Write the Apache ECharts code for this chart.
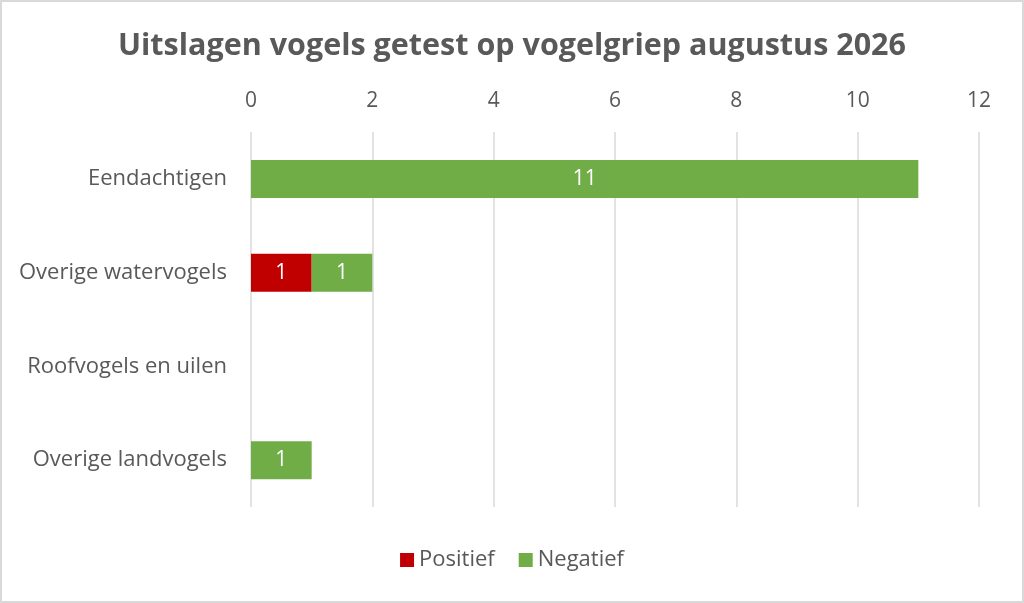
<!DOCTYPE html>
<html>
<head>
<meta charset="utf-8">
<script src="https://cdn.jsdelivr.net/npm/echarts@6/dist/echarts.min.js"></script>
<style>
  html, body { margin: 0; padding: 0; background: #fff; }
  #chart { width: 1024px; height: 603px; box-sizing: border-box; border: 2px solid #d9d9d9; }
</style>
</head>
<body>
<div id="chart"></div>
<script>
const categories = ["Eendachtigen", "Overige watervogels", "Roofvogels en uilen", "Overige landvogels"];
const positief = [0, 1, 0, 0];
const negatief = [11, 1, 0, 1];
const xTicks = { min: 0, max: 12, interval: 2 };

const chart = echarts.init(document.getElementById("chart"));
const txt = "#595959";
const font = "Open Sans";

const labelCfg = {
    show: true,
    color: "#fff",
    fontFamily: font,
    fontSize: 21,
    // lege waarden niet tonen
    formatter: (p) => (p.value ? p.value : "")
};

chart.setOption({
    animation: false,
    title: {
        text: "Uitslagen vogels getest op vogelgriep augustus 2026",
        left: "center",
        top: 24,
        textStyle: { color: txt, fontFamily: font, fontSize: 30.5, fontWeight: "bold" }
    },
    legend: {
        bottom: 25,
        left: "center",
        itemWidth: 14,
        itemHeight: 14,
        itemGap: 24,
        icon: "rect",
        textStyle: { color: txt, fontFamily: font, fontSize: 22 },
        data: ["Positief", "Negatief"]
    },
    grid: { left: 249, right: 43, top: 130, bottom: 94 },
    xAxis: {
        type: "value",
        position: "top",
        min: xTicks.min,
        max: xTicks.max,
        interval: xTicks.interval,
        axisLine: { show: false },
        axisTick: { show: false },
        axisLabel: { color: txt, fontFamily: font, fontSize: 21, margin: 20 },
        splitLine: { lineStyle: { color: "#d9d9d9", width: 1.5 } }
    },
    yAxis: {
        type: "category",
        inverse: true,
        data: categories,
        axisLine: { show: false },
        axisTick: { show: false },
        axisLabel: { color: txt, fontFamily: font, fontSize: 22, margin: 24 }
    },
    series: [
        {
            name: "Positief",
            type: "bar",
            stack: "totaal",
            barWidth: 38,
            itemStyle: { color: "#c00000" },
            label: labelCfg,
            data: positief
        },
        {
            name: "Negatief",
            type: "bar",
            stack: "totaal",
            barWidth: 38,
            itemStyle: { color: "#70ad47" },
            label: labelCfg,
            data: negatief
        }
    ]
});
</script>
</body>
</html>
